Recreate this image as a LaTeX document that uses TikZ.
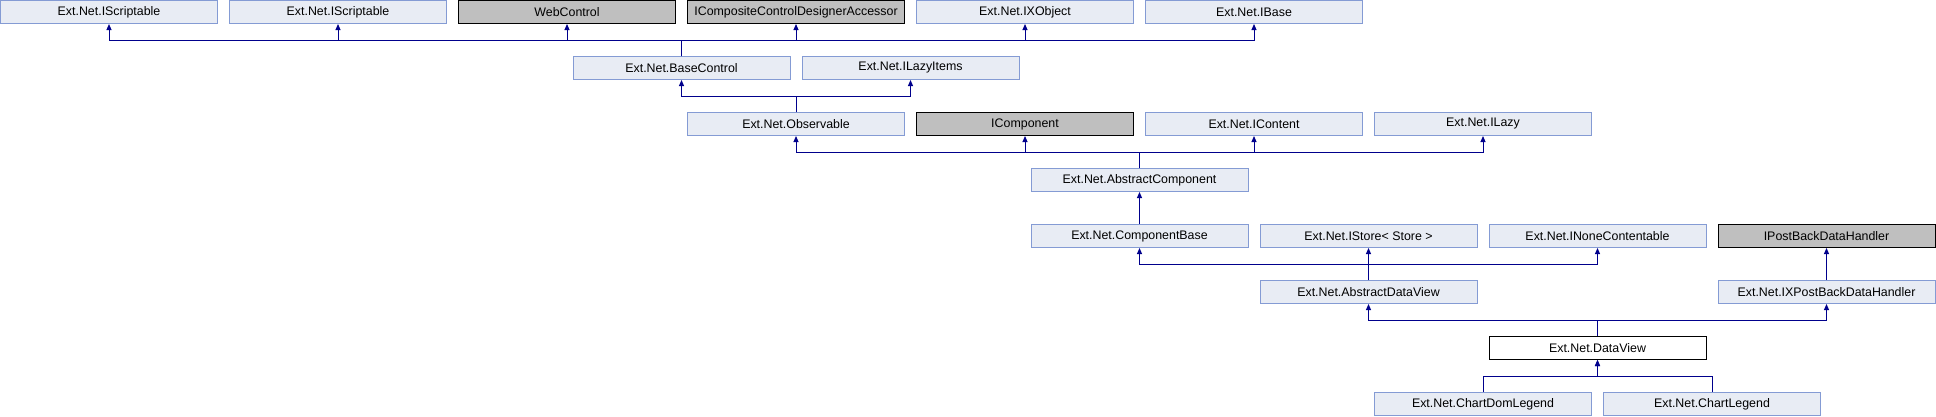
\documentclass[tikz,border=0pt]{standalone}
\usepackage{fontspec}
\setmainfont{Liberation Sans}
\usetikzlibrary{arrows.meta}
\definecolor{boxfill}{RGB}{232,236,244}
\definecolor{boxline}{RGB}{132,155,212}
\definecolor{grayfill}{RGB}{191,191,191}
\definecolor{linkc}{RGB}{0,0,140}
\tikzset{
  cls/.style={draw=boxline, fill=boxfill, line width=1pt, minimum width=217pt, minimum height=23pt, inner sep=0pt, font=\fontsize{12.4pt}{14pt}\selectfont},
  ext/.style={cls, draw=black, fill=grayfill},
  cur/.style={cls, draw=black, fill=white},
  link/.style={draw=linkc, line width=1pt, -{Triangle[length=6pt,width=5pt]}},
}
\begin{document}
\begin{tikzpicture}[x=1pt,y=-1pt]
\useasboundingbox (0,0) rectangle (1936,416);
% row 0
\node[cls] (s1) at (109,12) {Ext.Net.IScriptable};
\node[cls] (s2) at (338,12) {Ext.Net.IScriptable};
\node[ext] (web) at (567,12) {WebControl};
\node[ext] (icc) at (796,12) {ICompositeControlDesignerAccessor};
\node[cls] (ixo) at (1025,12) {Ext.Net.IXObject};
\node[cls] (ibase) at (1254,12) {Ext.Net.IBase};
% row 1
\node[cls] (bc) at (681.5,68) {Ext.Net.BaseControl};
\node[cls] (ili) at (910.5,68) {Ext.Net.ILazyItems};
% row 2
\node[cls] (obs) at (796,124) {Ext.Net.Observable};
\node[ext] (icomp) at (1025,124) {IComponent};
\node[cls] (icont) at (1254,124) {Ext.Net.IContent};
\node[cls] (ilazy) at (1483,124) {Ext.Net.ILazy};
% row 3
\node[cls] (ac) at (1139.5,180) {Ext.Net.AbstractComponent};
% row 4
\node[cls] (cb) at (1139.5,236) {Ext.Net.ComponentBase};
\node[cls] (ist) at (1368.5,236) {Ext.Net.IStore< Store >};
\node[cls] (inc) at (1597.5,236) {Ext.Net.INoneContentable};
\node[ext] (ipb) at (1826.5,236) {IPostBackDataHandler};
% row 5
\node[cls] (adv) at (1368.5,292) {Ext.Net.AbstractDataView};
\node[cls] (ixpb) at (1826.5,292) {Ext.Net.IXPostBackDataHandler};
% row 6
\node[cur] (dv) at (1597.5,348) {Ext.Net.DataView};
% row 7
\node[cls] (cdl) at (1483,404) {Ext.Net.ChartDomLegend};
\node[cls] (cl) at (1712,404) {Ext.Net.ChartLegend};
% connectors
\foreach \p in {s1,s2,web,icc,ixo,ibase}
  \draw[link] (bc.north) -- ++(0,-16) -| (\p.south);
\foreach \p in {bc,ili}
  \draw[link] (obs.north) -- ++(0,-16) -| (\p.south);
\foreach \p in {obs,icomp,icont,ilazy}
  \draw[link] (ac.north) -- ++(0,-16) -| (\p.south);
\draw[link] (cb.north) -- (ac.south);
\foreach \p in {cb,ist,inc}
  \draw[link] (adv.north) -- ++(0,-16) -| (\p.south);
\draw[link] (ixpb.north) -- (ipb.south);
\foreach \p in {adv,ixpb}
  \draw[link] (dv.north) -- ++(0,-16) -| (\p.south);
\foreach \c in {cdl,cl}
  \draw[link] (\c.north) -- ++(0,-16) -| (dv.south);
\end{tikzpicture}
\end{document}
